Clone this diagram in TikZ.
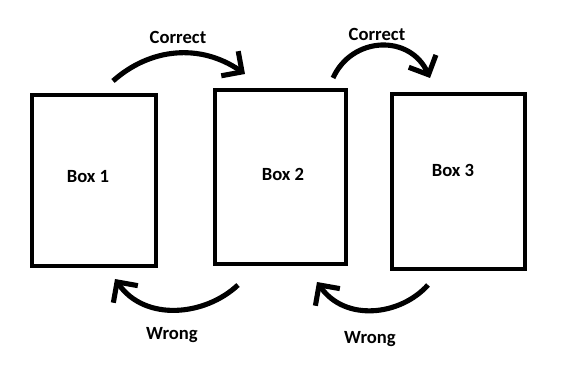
\documentclass[tikz,border=0pt]{standalone}
\usepackage{fontspec}
\setmainfont{Carlito}
\usetikzlibrary{arrows.meta}

\begin{document}
\begin{tikzpicture}[x=.02cm,y=-.02cm,
  box/.style={draw,line width=2.5pt,inner sep=0pt},
  tag/.style={font=\fontsize{10.6}{12}\selectfont\bfseries},
  flow/.style={line width=2.9pt,-{Straight Barb[length=8.5pt,width=17pt]}}]
 \useasboundingbox (0,0) rectangle (575,377);
 \node[box,minimum width=2.48cm,minimum height=3.42cm] (b1) at (94,180.5) {};
 \node[box,minimum width=2.62cm,minimum height=3.48cm] (b2) at (280.5,177) {};
 \node[box,minimum width=2.66cm,minimum height=3.5cm] (b3) at (458.5,181.5) {};
 \node[tag] (t1) at (88,177) {Box 1};
 \node[tag] (t2) at (283,174) {Box 2};
 \node[tag] (t3) at (453,170) {Box 3};
 % correct moves
 \coordinate (c1s) at (113,81);  \coordinate (c1e) at (245,74);
 \coordinate (c2s) at (333,78);  \coordinate (c2e) at (430,78);
 \draw[flow] (c1s) .. controls (150,48) and (200,43) .. (c1e);
 \draw[flow] (c2s) .. controls (352,36) and (410,34) .. (c2e);
 \node[tag] (k1) at (178,37) {Correct};
 \node[tag] (k2) at (377,34) {Correct};
 % wrong moves
 \coordinate (w1s) at (238,285); \coordinate (w1e) at (115,279);
 \coordinate (w2s) at (428,285); \coordinate (w2e) at (317,282);
 \draw[flow] (w1s) .. controls (205,316) and (145,322) .. (w1e);
 \draw[flow] (w2s) .. controls (400,316) and (345,322) .. (w2e);
 \node[tag] (n1) at (172,335) {Wrong};
 \node[tag] (n2) at (370,339) {Wrong};
\end{tikzpicture}
\end{document}
